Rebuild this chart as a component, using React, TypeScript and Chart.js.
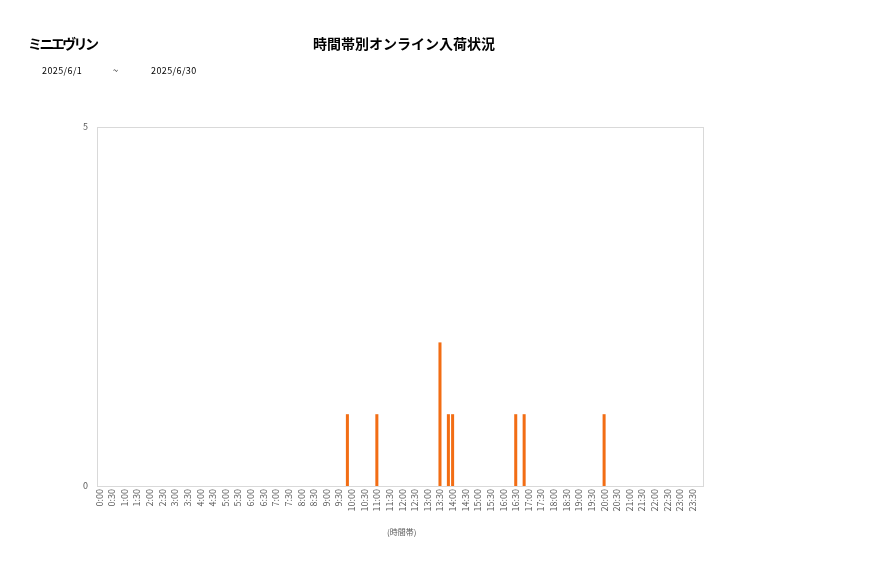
import React, { useEffect, useRef } from 'react';
import { Chart, registerables } from 'chart.js';

Chart.register(...registerables);

// 10-minute time slots, a label shown every 30 minutes
const slotLabels: string[] = [];
for (let h = 0; h < 24; h++) {
  for (let m = 0; m < 60; m += 10) slotLabels.push(`${h}:${m === 0 ? '00' : m}`);
}

const arrivalTimes = ['9:50', '11:00', '13:30', '13:50', '14:00', '16:30', '16:50', '20:00'];
const arrivalCounts = [1, 1, 2, 1, 1, 1, 1, 1];
const yTicks = [0, 5];

const FONT = '"Noto Sans CJK JP", "Noto Sans", sans-serif';
const GRAY = '#595959';

const framePlugin = {
  id: 'frame',
  beforeDatasetsDraw(chart: any) {
    const { ctx, chartArea: a } = chart;
    ctx.save();
    ctx.strokeStyle = '#d9d9d9';
    ctx.lineWidth = 1;
    ctx.strokeRect(Math.round(a.left) + 0.5, Math.round(a.top) + 0.5, Math.round(a.width), Math.round(a.height));
    ctx.restore();
  },
};

const App: React.FC = () => {
  const canvasRef = useRef<HTMLCanvasElement>(null);

  useEffect(() => {
    document.body.style.margin = '0';
    if (!canvasRef.current) return;

    const counts = slotLabels.map(l => {
      const i = arrivalTimes.indexOf(l);
      return i >= 0 ? arrivalCounts[i] : 0;
    });

    const chart = new Chart(canvasRef.current, {
      type: 'bar',
      data: {
        labels: slotLabels,
        datasets: [{
          data: counts,
          backgroundColor: '#f26d14',
          barPercentage: 0.72,
          categoryPercentage: 1,
        }],
      },
      options: {
        responsive: true,
        maintainAspectRatio: false,
        animation: false,
        layout: { padding: { top: 127, right: 174, bottom: 0, left: 0 } },
        plugins: { legend: { display: false }, tooltip: { enabled: false } },
        scales: {
          x: {
            grid: { display: false, drawTicks: false },
            border: { display: false },
            ticks: {
              autoSkip: false,
              minRotation: 90,
              maxRotation: 90,
              padding: 3,
              color: GRAY,
              font: { family: FONT, size: 9 },
              callback: (_v: any, i: number) => (i % 3 === 0 ? slotLabels[i] : ''),
            },
            afterFit: (s: any) => { s.height = 92; },
          },
          y: {
            min: 0,
            max: 5,
            grid: { display: false, drawTicks: false },
            border: { display: false },
            afterBuildTicks: (s: any) => { s.ticks = yTicks.map(v => ({ value: v })); },
            ticks: { padding: 9, color: GRAY, font: { family: FONT, size: 9 } },
            afterFit: (s: any) => { s.width = 97; },
          },
        },
      },
      plugins: [framePlugin],
    } as any);

    return () => chart.destroy();
  }, []);

  return (
    <div style={{ position: 'absolute', left: 0, top: 0, width: 877, height: 578, background: '#fff', fontFamily: FONT }}>
      <div style={{ position: 'absolute', left: 0, top: 0, width: 877, height: 578 }}>
        <canvas ref={canvasRef} />
      </div>
      <div style={{ position: 'absolute', left: 28, top: 33, fontSize: 14, fontWeight: 'bold', color: '#000', letterSpacing: -2.6, whiteSpace: 'nowrap' }}>ミニエヴリン</div>
      <div style={{ position: 'absolute', left: 313, top: 33, fontSize: 14, fontWeight: 'bold', color: '#000', whiteSpace: 'nowrap' }}>時間帯別オンライン入荷状況</div>
      <div style={{ position: 'absolute', left: 42, top: 64, fontSize: 9, color: '#000', letterSpacing: 0.4, whiteSpace: 'nowrap' }}>2025/6/1</div>
      <div style={{ position: 'absolute', left: 113, top: 64, fontSize: 9, color: '#000', whiteSpace: 'nowrap' }}>~</div>
      <div style={{ position: 'absolute', left: 151, top: 64, fontSize: 9, color: '#000', letterSpacing: 0.4, whiteSpace: 'nowrap' }}>2025/6/30</div>
      <div style={{ position: 'absolute', left: 387, top: 526, fontSize: 8, color: GRAY, whiteSpace: 'nowrap' }}>(時間帯)</div>
    </div>
  );
};

export default App;
